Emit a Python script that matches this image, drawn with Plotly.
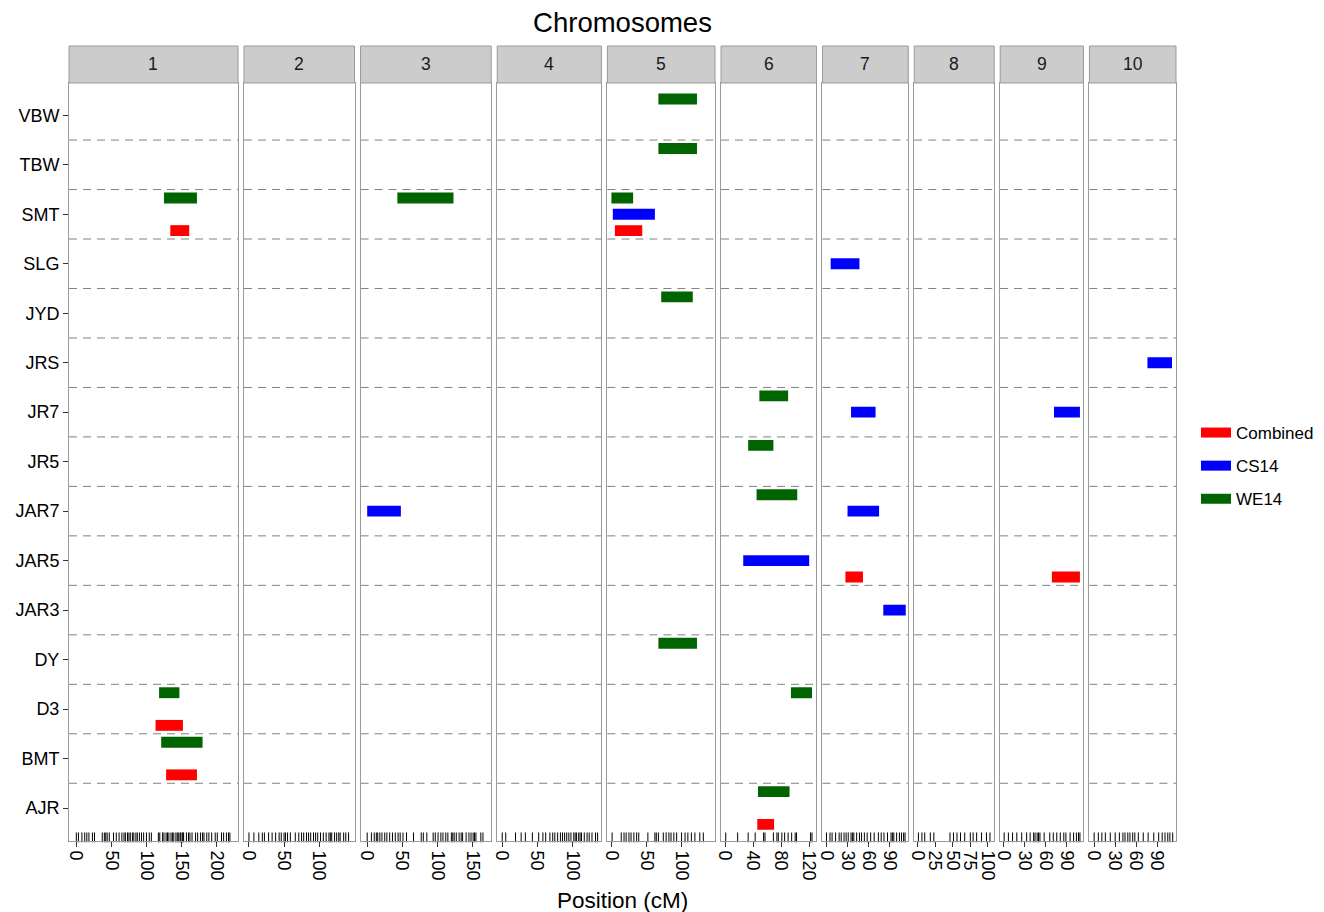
import plotly.graph_objects as go

# ---------------- data ----------------
chromosomes = ["1", "2", "3", "4", "5", "6", "7", "8", "9", "10"]
traits = ["AJR", "BMT", "D3", "DY", "JAR3", "JAR5", "JAR7", "JR5", "JR7",
          "JRS", "JYD", "SLG", "SMT", "TBW", "VBW"]
datasets = ["Combined", "CS14", "WE14"]

# x tick labels per chromosome panel
x_tickvals = [[0, 50, 100, 150, 200], [0, 50, 100], [0, 50, 100, 150],
              [0, 50, 100], [0, 50, 100], [0, 40, 80, 120], [0, 30, 60, 90],
              [0, 25, 50, 75, 100], [0, 30, 60, 90], [0, 30, 60, 90]]

# QTL support intervals (cM)
qtl_chrom = ["1", "1", "1", "1", "1", "1",
             "3", "3",
             "5", "5", "5", "5", "5", "5", "5",
             "6", "6", "6", "6", "6", "6", "6",
             "7", "7", "7", "7", "7",
             "9", "9",
             "10"]
qtl_trait = ["SMT", "SMT", "D3", "D3", "BMT", "BMT",
             "SMT", "JAR7",
             "VBW", "TBW", "SMT", "SMT", "SMT", "JYD", "DY",
             "JR7", "JR5", "JAR7", "JAR5", "D3", "AJR", "AJR",
             "SLG", "JR7", "JAR7", "JAR5", "JAR3",
             "JR7", "JAR5",
             "JRS"]
qtl_set = ["WE14", "Combined", "WE14", "Combined", "WE14", "Combined",
           "WE14", "CS14",
           "WE14", "WE14", "WE14", "CS14", "Combined", "WE14", "WE14",
           "WE14", "WE14", "WE14", "CS14", "WE14", "WE14", "Combined",
           "CS14", "CS14", "CS14", "Combined", "CS14",
           "CS14", "Combined",
           "CS14"]
qtl_start = [125, 134, 118, 113, 121, 128,
             43, 0,
             67, 67, 0, 2, 5, 71, 67,
             49, 33, 45, 26, 94, 47, 46,
             6, 35, 30, 27, 81,
             72, 69,
             76]
qtl_end = [172, 161, 147, 152, 180, 172,
           123, 48,
           122, 122, 31, 62, 44, 116, 122,
           90, 69, 103, 120, 124, 92, 70,
           47, 70, 75, 52, 113,
           109, 109,
           111]

# marker positions (rug), cM
markers = {
    "1": [0, 3, 8, 12, 15, 18, 23, 26, 37, 40, 42, 44, 47, 53, 57, 61, 65, 68, 70,
          73, 75, 77, 80, 82, 85, 87, 90, 93, 96, 100, 104, 107, 117, 119, 123, 125,
          128, 130, 132, 135, 137, 139, 142, 144, 146, 148, 149, 151, 152, 153, 157,
          160, 162, 165, 170, 173, 177, 180, 182, 186, 189, 193, 198, 201, 207, 210,
          214, 217, 219],
    "2": [0, 7, 14, 19, 22, 28, 33, 38, 43, 46, 50, 52, 55, 59, 66, 71, 75, 78, 82,
          85, 88, 92, 95, 98, 102, 106, 110, 114, 116, 118, 122, 125, 128, 130, 135,
          138, 142],
    "3": [0, 6, 10, 13, 15, 18, 21, 25, 28, 32, 36, 40, 44, 47, 51, 56, 66, 77, 80,
          85, 94, 97, 101, 105, 108, 112, 115, 120, 122, 124, 127, 131, 134, 136,
          141, 145, 148, 151, 153, 155, 162, 165],
    "4": [0, 5, 19, 27, 33, 43, 52, 58, 62, 68, 72, 75, 79, 83, 86, 89, 92, 95, 98,
          102, 104, 106, 109, 111, 113, 117, 121, 124, 128, 133, 136],
    "5": [1, 14, 18, 21, 25, 28, 32, 36, 39, 52, 62, 64, 67, 74, 78, 82, 85, 89, 93,
          100, 105, 109, 114, 119, 126, 131],
    "6": [1, 18, 33, 43, 55, 57, 69, 74, 76, 81, 85, 90, 95, 100, 102, 122, 124],
    "7": [0, 5, 8, 13, 18, 21, 25, 28, 31, 35, 37, 39, 43, 47, 50, 54, 58, 63, 68,
          74, 78, 82, 87, 92, 94, 96, 100, 104, 107, 110, 112],
    "8": [1, 6, 10, 18, 23, 46, 51, 56, 61, 67, 75, 79, 84, 91, 98, 103],
    "9": [1, 7, 13, 19, 26, 33, 38, 43, 45, 48, 50, 52, 58, 66, 71, 76, 81, 86, 89,
          95, 100, 104, 107, 109],
    "10": [0, 6, 11, 16, 23, 30, 36, 41, 44, 48, 51, 55, 58, 63, 70, 77, 85, 92, 97,
           101, 105, 108, 112],
}

# ---------------- styling / layout config ----------------
colors = {"Combined": "#FF0000", "CS14": "#0000FF", "WE14": "#006400"}
offsets = {"Combined": -0.33, "CS14": 0.0, "WE14": 0.33}
x_ranges = [(-10.4, 230.5), (-7.1, 150.5), (-9.5, 176.8), (-7.1, 141.4),
            (-5.7, 147.7), (-5.7, 130.4), (-5.7, 116.6), (-4.9, 109.0),
            (-4.7, 114.0), (-6.7, 116.7)]
y_range = [0.333, 15.653]

# page has an 8px body margin, so the figure is drawn 8px smaller
PAD = 8
W, H = 1324 - PAD, 912 - PAD
ML, MR, MT, MB = 69 - PAD, 148, 83 - PAD, 71
plot_w = W - ML - MR
plot_h = H - MT - MB
gap_px = 6.0
widths = [r[1] - r[0] for r in x_ranges]
k = (plot_w - gap_px * 9) / sum(widths)

FONT = "Arial, Liberation Sans, sans-serif"
BORDER = "#9a9a9a"
TICKFONT = dict(family=FONT, size=18, color="black")

fig = go.Figure()

# domains
domains = []
pos = 0.0
for w in widths:
    d0 = pos / plot_w
    pos += w * k
    d1 = pos / plot_w
    domains.append([d0, min(d1, 1.0)])
    pos += gap_px

tindex = {t: i + 1 for i, t in enumerate(traits)}

# bars
for ci, ch in enumerate(chromosomes):
    ax = "" if ci == 0 else str(ci + 1)
    for ds in datasets:
        ys, xs, bs = [], [], []
        for c, t, s, a, b in zip(qtl_chrom, qtl_trait, qtl_set, qtl_start, qtl_end):
            if c == ch and s == ds:
                ys.append(tindex[t] + offsets[ds])
                xs.append(b - a)
                bs.append(a)
        if ys:
            fig.add_trace(go.Bar(
                orientation="h", y=ys, x=xs, base=bs, width=0.22,
                marker=dict(color=colors[ds], line=dict(width=0)),
                showlegend=False, xaxis="x" + ax, yaxis="y" + ax,
            ))
    # rug
    m = markers[ch]
    fig.add_trace(go.Scatter(
        x=m, y=[0.406] * len(m), mode="markers",
        marker=dict(symbol="line-ns", size=7, color="black",
                    line=dict(color="black", width=1)),
        showlegend=False, xaxis="x" + ax, yaxis="y" + ax, cliponaxis=False,
        hoverinfo="x",
    ))

# legend entries
for ds in datasets:
    fig.add_trace(go.Scatter(
        x=[None], y=[None], mode="lines", name=ds, legendgroup=ds,
        line=dict(color=colors[ds], width=10),
        xaxis="x", yaxis="y",
    ))

shapes = []
annotations = []
layout = {}
strip_h = 37 / plot_h
for ci, ch in enumerate(chromosomes):
    n = "" if ci == 0 else str(ci + 1)
    layout["xaxis" + n] = dict(
        domain=domains[ci], range=list(x_ranges[ci]), anchor="y" + n,
        tickmode="array", tickvals=x_tickvals[ci],
        ticktext=[str(v) for v in x_tickvals[ci]],
        ticks="outside", ticklen=5, tickwidth=1,
        tickcolor="#333333", tickangle=90, tickfont=TICKFONT,
        showline=True, mirror=True, linecolor=BORDER, linewidth=1,
        showgrid=False, zeroline=False, fixedrange=True, automargin=False,
    )
    ydict = dict(
        domain=[0, 1], range=y_range, anchor="x" + n,
        showgrid=False, zeroline=False, showline=True, mirror=True,
        linecolor=BORDER, linewidth=1, automargin=False, fixedrange=True,
    )
    if ci == 0:
        ydict.update(tickmode="array", tickvals=list(range(1, len(traits) + 1)),
                     ticktext=traits, ticks="outside", ticklen=5,
                     tickcolor="#333333", tickfont=TICKFONT)
    else:
        ydict.update(showticklabels=False, ticks="", matches="y")
    layout["yaxis" + n] = ydict

    # dashed separators
    xr = "x" + n + " domain"
    for kk in range(1, len(traits)):
        shapes.append(dict(type="line", xref=xr, yref="y" + n,
                           x0=0, x1=1, y0=kk + 0.5, y1=kk + 0.5,
                           line=dict(color="#808080", width=1, dash="8px,6px"),
                           layer="below"))
    # strip
    shapes.append(dict(type="rect", xref=xr, yref="paper",
                       x0=0, x1=1, y0=1.0, y1=1.0 + strip_h,
                       fillcolor="#CCCCCC", line=dict(color=BORDER, width=1)))
    annotations.append(dict(xref=xr, yref="paper", x=0.5, y=1.0 + strip_h / 2,
                            text=ch, showarrow=False, xanchor="center",
                            yanchor="middle",
                            font=dict(family=FONT, size=17.5, color="#1a1a1a")))

annotations.append(dict(xref="paper", yref="paper", x=0.5,
                        y=-((900 - PAD) - (H - MB)) / plot_h,
                        text="Position (cM)", showarrow=False, xanchor="center",
                        yanchor="middle", font=dict(family=FONT, size=22.5, color="black")))

fig.update_layout(
    width=W, height=H,
    margin=dict(l=ML, r=MR, t=MT, b=MB, autoexpand=False),
    paper_bgcolor="white", plot_bgcolor="white",
    barmode="overlay",
    title=dict(text="Chromosomes", x=0.5, xref="paper", xanchor="center",
               y=1 - (22 - PAD) / H, yref="container", yanchor="middle",
               font=dict(family=FONT, size=27.5, color="black")),
    legend=dict(x=((1196 - PAD) - ML) / plot_w, xanchor="left",
                y=((H - MB) - (466 - PAD)) / plot_h,
                yanchor="middle", font=dict(family=FONT, size=17, color="black"),
                bgcolor="rgba(0,0,0,0)", itemwidth=30, tracegroupgap=8,
                borderwidth=0),
    shapes=shapes, annotations=annotations,
    **layout,
)

fig.write_html("out.html")
